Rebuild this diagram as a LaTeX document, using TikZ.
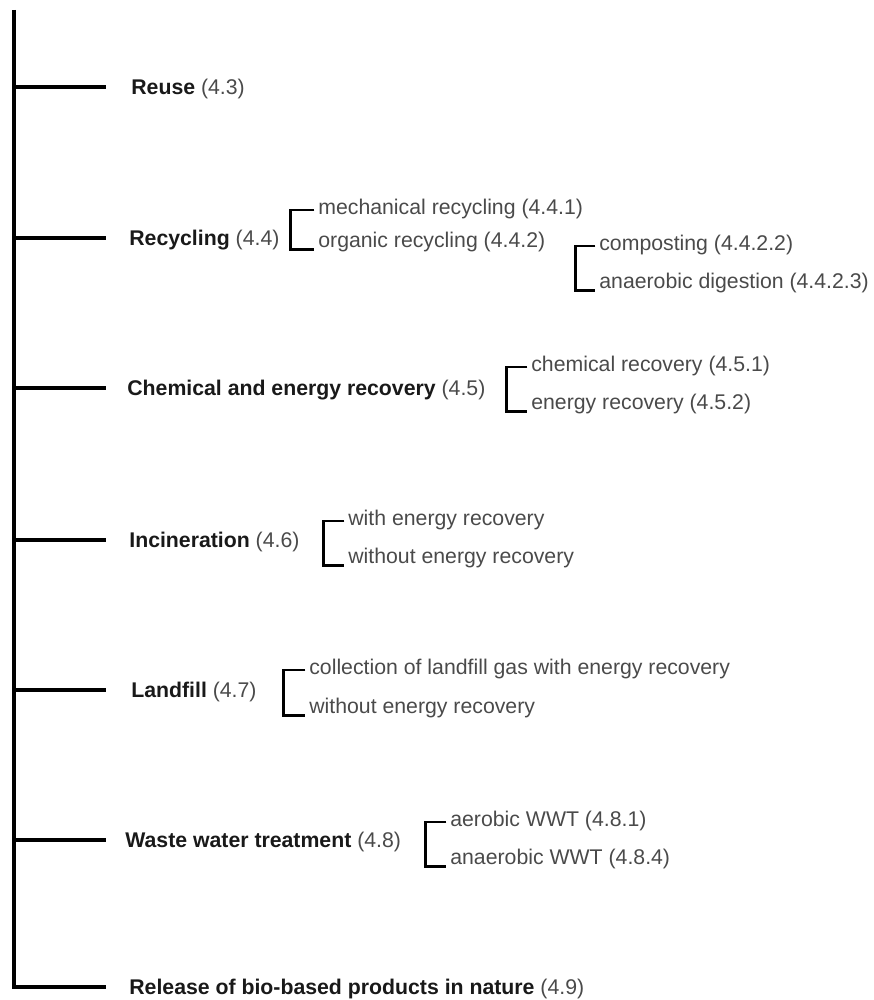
\documentclass[tikz,border=0pt]{standalone}
\usepackage{fontspec}
\setmainfont{Liberation Sans}
\usepackage{tikz}
\usetikzlibrary{calc}
\definecolor{labelgray}{HTML}{4A4A4A}

\begin{document}
\begin{tikzpicture}[
            x=0.02cm, y=-0.02cm,
            font=\fontsize{12.1}{14}\selectfont,
            trunk/.style={line width=2pt},
            branch/.style={line width=1.8pt},
            bracket/.style={line width=1.5pt},
            main/.style={anchor=west, inner sep=0pt, text height=8.6pt, text depth=0pt, text=black!90},
            sub/.style={anchor=mid west, inner sep=0pt, text=labelgray}
        ]
            \useasboundingbox (0,0) rectangle (873,1000);

            % Eje principal
            \coordinate (top) at (14,10);
            \coordinate (corner) at (14,987);
            \draw[trunk] (top) -- (corner) -- ++(92,0);

            % Ramas
            \foreach \y/\n in {87/reuse, 238/recyc, 388/chem, 540/incin, 690/landf, 840/wwt} {
                \coordinate (j-\n) at (14,\y);
                \draw[branch] (j-\n) -- ++(92,0);
            }

            % Opciones principales
            \node[main] (reuse) at (131,87) {\textbf{Reuse} \textcolor{labelgray}{(4.3)}};
            \node[main] (recyc) at (129,238) {\textbf{Recycling} \textcolor{labelgray}{(4.4)}};
            \node[main] (chem) at (127,388) {\textbf{Chemical and energy recovery} \textcolor{labelgray}{(4.5)}};
            \node[main] (incin) at (129,540) {\textbf{Incineration} \textcolor{labelgray}{(4.6)}};
            \node[main] (landf) at (131,690) {\textbf{Landfill} \textcolor{labelgray}{(4.7)}};
            \node[main] (wwt) at (125,840) {\textbf{Waste water treatment} \textcolor{labelgray}{(4.8)}};
            \node[main] (rel) at (129,987) {\textbf{Release of bio-based products in nature} \textcolor{labelgray}{(4.9)}};

            % Reciclaje
            \node[sub] (mech) at (318,210) {mechanical recycling (4.4.1)};
            \node[sub] (org) at (318,243) {organic recycling (4.4.2)};
            \draw[bracket] ([xshift=-2pt]mech.mid west) -- ++(-24,0) |- ([xshift=-2pt,yshift=-1pt]org.base west);

            \node[sub] (comp) at (599,246) {composting (4.4.2.2)};
            \node[sub] (anad) at (599,284) {anaerobic digestion (4.4.2.3)};
            \draw[bracket] ([xshift=-2pt]comp.mid west) -- ++(-20,0) |- ([xshift=-2pt,yshift=-1pt]anad.base west);

            % Recuperacion
            \node[sub] (chemrec) at (531,367) {chemical recovery (4.5.1)};
            \node[sub] (enrec) at (531,405) {energy recovery (4.5.2)};
            \draw[bracket] ([xshift=-2pt]chemrec.mid west) -- ++(-21,0) |- ([xshift=-2pt,yshift=-1pt]enrec.base west);

            % Incineracion
            \node[sub] (incwith) at (348,521) {with energy recovery};
            \node[sub] (incwo) at (348,559) {without energy recovery};
            \draw[bracket] ([xshift=-2pt]incwith.mid west) -- ++(-21,0) |- ([xshift=-2pt,yshift=-1pt]incwo.base west);

            % Vertedero
            \node[sub] (lfgas) at (309,670) {collection of landfill gas with energy recovery};
            \node[sub] (lfwo) at (309,709) {without energy recovery};
            \draw[bracket] ([xshift=-2pt]lfgas.mid west) -- ++(-22,0) |- ([xshift=-2pt,yshift=-1pt]lfwo.base west);

            % Aguas residuales
            \node[sub] (aer) at (450,822) {aerobic WWT (4.8.1)};
            \node[sub] (anaer) at (450,860) {anaerobic WWT (4.8.4)};
            \draw[bracket] ([xshift=-2pt]aer.mid west) -- ++(-21,0) |- ([xshift=-2pt,yshift=-1pt]anaer.base west);

        \end{tikzpicture}
\end{document}
